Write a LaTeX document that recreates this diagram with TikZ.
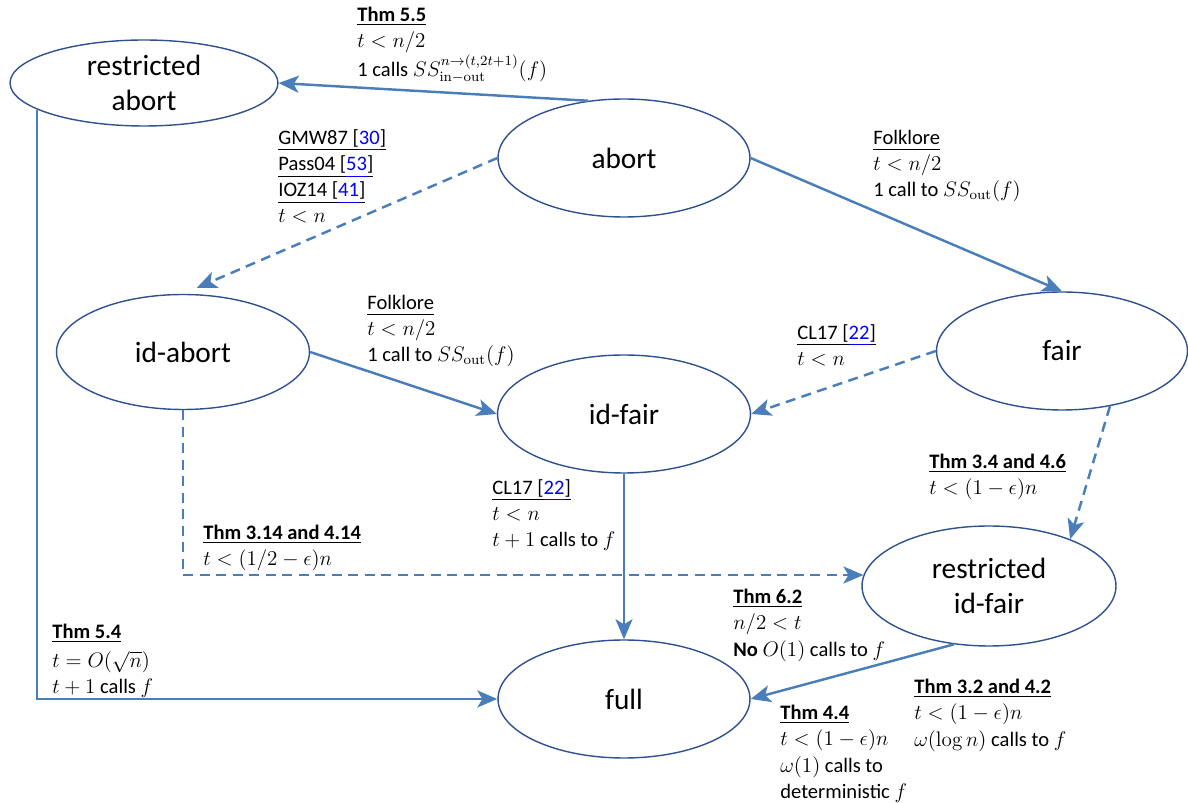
\documentclass[tikz,border=0pt]{standalone}
\usepackage{amsmath, amssymb}
\usepackage[no-math]{fontspec}
\setmainfont{Carlito}
\usepackage{tikz}
\usetikzlibrary{arrows.meta, shapes.geometric}

\definecolor{edgeblue}{RGB}{74,126,187}
\definecolor{ringblue}{RGB}{47,82,143}

% underlined source names, theorem names and blue reference numbers
\newcommand{\src}[1]{\underline{\vphantom{[}#1}}
\newcommand{\refno}[1]{\textcolor{blue}{\underline{\vphantom{[}#1}}}
\newcommand{\thm}[1]{\underline{\textbf{#1}}}

\begin{document}
\begin{tikzpicture}[x=0.02cm, y=-0.02cm,
    state/.style={ellipse, draw=ringblue, line width=0.8pt, inner sep=0pt, align=center,
                  font=\fontsize{16.7}{20}\selectfont},
    conn/.style={draw=edgeblue, line width=1.4pt, -{Stealth[length=4mm, width=3.4mm, inset=1mm]}},
    weak/.style={conn, dash pattern=on 0.2cm off 0.13cm},
    lbl/.style={anchor=north west, inner sep=0pt, align=left,
                font=\fontsize{11.7}{14.9}\selectfont}]
            \useasboundingbox (0, 0) rectangle (1188, 803);

            % Security notions
            \node[state, minimum width=5.36cm, minimum height=1.72cm] (rabort) at (144, 83) {restricted\\abort};
            \node[state, minimum width=5.04cm, minimum height=2.36cm] (abort) at (624, 158) {abort};
            \node[state, minimum width=5.06cm, minimum height=2.30cm] (idabort) at (183, 352) {id-abort};
            \node[state, minimum width=5.02cm, minimum height=2.36cm] (fair) at (1062, 351) {fair};
            \node[state, minimum width=5.06cm, minimum height=2.36cm] (idfair) at (624, 414) {id-fair};
            \node[state, minimum width=5.08cm, minimum height=2.40cm] (ridfair) at (989, 586) {restricted\\id-fair};
            \node[state, minimum width=5.04cm, minimum height=2.36cm] (full) at (624, 699) {full};

            % Implications out of abort
            \draw[conn] (abort.122) -- (rabort.east);
            \draw[weak, shorten >=0.3cm] (abort.west) -- (idabort.north);
            \draw[conn] (abort.east) -- (fair.north);

            % Middle row
            \draw[conn] (idabort.east) -- (idfair.west);
            \draw[weak] (fair.west) -- (idfair.east);
            \draw[weak] (fair.-49) -- (ridfair.30);
            \draw[weak] (idabort.south) |- (ridfair.175);

            % Into full
            \draw[conn] (idfair.south) -- (full.north);
            \draw[conn] (ridfair.-121) -- (full.east);
            \draw[conn] (rabort.-166) |- (full.west);

            % Edge labels
            \node[lbl] (thmfivefive) at (357, 7) {\thm{Thm 5.5}\\$t<n/2$\\1 calls $SS^{n\to(t,2t+1)}_{\mathrm{in{-}out}}(f)$};
            \node[lbl] (gmw) at (278, 129) {\src{GMW87 [}\refno{30}\src{]}\\\src{Pass04 [}\refno{53}\src{]}\\\src{IOZ14 [}\refno{41}\src{]}\\$t<n$};
            \node[lbl] (folkfair) at (873, 129) {\src{Folklore}\\$t<n/2$\\1 call to $SS_{\mathrm{out}}(f)$};
            \node[lbl] (folkid) at (367, 294) {\src{Folklore}\\$t<n/2$\\1 call to $SS_{\mathrm{out}}(f)$};
            \node[lbl] (clfair) at (797, 324) {\src{CL17 [}\refno{22}\src{]}\\$t<n$};
            \node[lbl] (clfull) at (492, 479) {\src{CL17 [}\refno{22}\src{]}\\$t<n$\\$t+1$ calls to $f$};
            \node[lbl] (thmthreefour) at (929, 454) {\thm{Thm 3.4 and 4.6}\\$t<(1-\epsilon)n$};
            \node[lbl] (thmthreefourteen) at (203, 525) {\thm{Thm 3.14 and 4.14}\\$t<(1/2-\epsilon)n$};
            \node[lbl] (thmfivefour) at (52, 624) {\thm{Thm 5.4}\\[1.5pt]$t=O(\sqrt{n})$\\$t+1$ calls $f$};
            \node[lbl] (thmsixtwo) at (733, 589) {\thm{Thm 6.2}\\$n/2<t$\\\textbf{No} $O(1)$ calls to $f$};
            \node[lbl] (thmthreetwo) at (914, 679) {\thm{Thm 3.2 and 4.2}\\$t<(1-\epsilon)n$\\$\omega(\log n)$ calls to $f$};
            \node[lbl] (thmfourfour) at (780, 705) {\thm{Thm 4.4}\\$t<(1-\epsilon)n$\\$\omega(1)$ calls to\\deterministic $f$};
\end{tikzpicture}
\end{document}
